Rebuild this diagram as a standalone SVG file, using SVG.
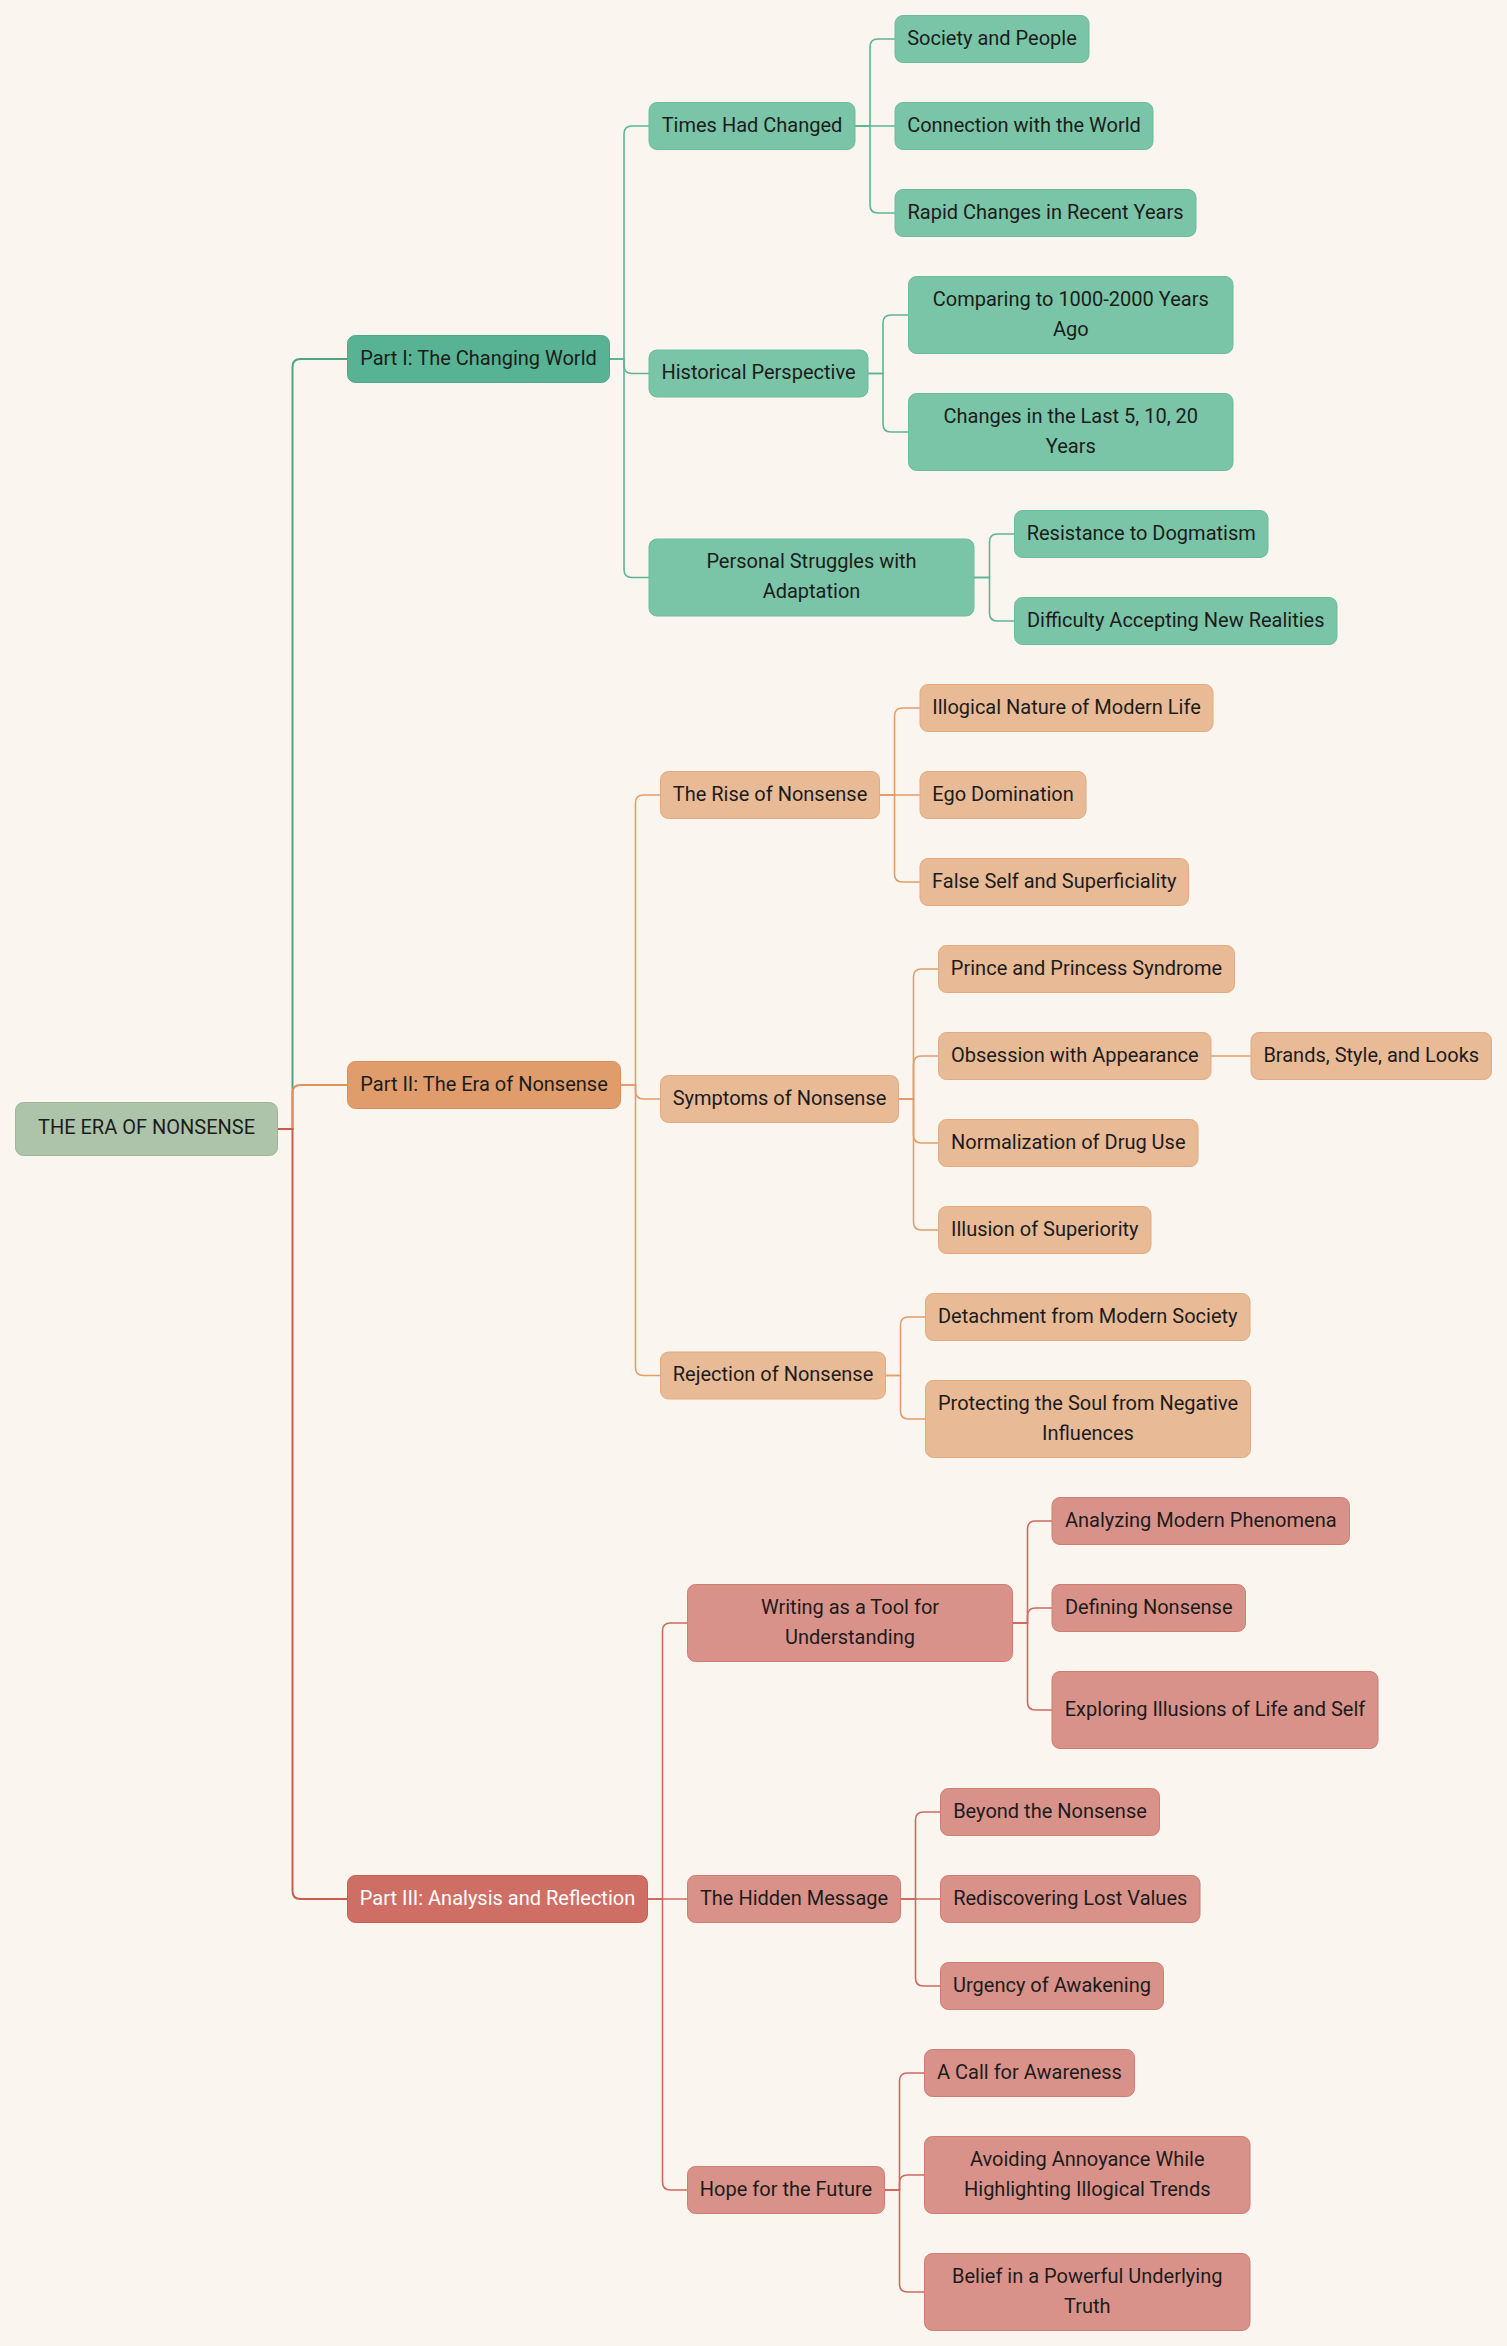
<svg xmlns="http://www.w3.org/2000/svg" width="1507" height="2346" viewBox="0 0 1507 2346">
<style>
text{font-family:Roboto,"Liberation Sans",sans-serif;font-size:20px;fill:#1c1c1c;text-anchor:middle}
rect{stroke-width:1}
.root rect{fill:#aec4aa;stroke:#9cb697}
.g1 rect{fill:#57b393;stroke:#4ea787}
.g2 rect{fill:#7ac4a7;stroke:#6cbc9d}
.o1 rect{fill:#e09d6b;stroke:#d98e59}
.o2 rect{fill:#e8ba96;stroke:#e2aa80}
.r1 rect{fill:#cf6e64;stroke:#c65d53}
.r1 text{fill:#ffffff}
.r2 rect{fill:#d9928a;stroke:#cf7c73}
#edges path{fill:none}
.eg0{stroke:#4fa384;stroke-width:2}
.eo0{stroke:#e0945c;stroke-width:2}
.er0{stroke:#cb5a4f;stroke-width:2}
.eg{stroke:#5db595;stroke-width:1.6}
.eo{stroke:#e39d68;stroke-width:1.6}
.er{stroke:#cf6a60;stroke-width:1.6}
</style>
<rect x="0" y="0" width="1507" height="2346" fill="#faf6ef" stroke="none"/>
<g id="edges">
<path class="eg0" d="M277.5,1129 H292.5 V367 Q292.5,359 300.5,359 H347.5"/>
<path class="eo0" d="M277.5,1129 H292.5 V1093 Q292.5,1085 300.5,1085 H347.5"/>
<path class="er0" d="M277.5,1129 H292.5 V1891 Q292.5,1899 300.5,1899 H347.5"/>
<path class="eg" d="M609.5,359 H624 V134 Q624,126 632,126 H649"/>
<path class="eg" d="M609.5,359 H624 V365.5 Q624,373.5 632,373.5 H649"/>
<path class="eg" d="M609.5,359 H624 V569.5 Q624,577.5 632,577.5 H649"/>
<path class="eg" d="M855,126 H870 V47 Q870,39 878,39 H895"/>
<path class="eg" d="M855,126 H895"/>
<path class="eg" d="M855,126 H870 V205 Q870,213 878,213 H895"/>
<path class="eg" d="M868,373.5 H883 V323 Q883,315 891,315 H908.5"/>
<path class="eg" d="M868,373.5 H883 V424 Q883,432 891,432 H908.5"/>
<path class="eg" d="M974,577.5 H989.5 V542 Q989.5,534 997.5,534 H1014.5"/>
<path class="eg" d="M974,577.5 H989.5 V613 Q989.5,621 997.5,621 H1014.5"/>
<path class="eo" d="M620.5,1085 H635.5 V803 Q635.5,795 643.5,795 H660.5"/>
<path class="eo" d="M620.5,1085 H635.5 V1091 Q635.5,1099 643.5,1099 H660.5"/>
<path class="eo" d="M620.5,1085 H635.5 V1367.5 Q635.5,1375.5 643.5,1375.5 H660.5"/>
<path class="eo" d="M879.5,795 H894.5 V716 Q894.5,708 902.5,708 H920"/>
<path class="eo" d="M879.5,795 H920"/>
<path class="eo" d="M879.5,795 H894.5 V874 Q894.5,882 902.5,882 H920"/>
<path class="eo" d="M898.5,1099 H913.5 V977 Q913.5,969 921.5,969 H938.5"/>
<path class="eo" d="M898.5,1099 H913.5 V1064 Q913.5,1056 921.5,1056 H938.5"/>
<path class="eo" d="M898.5,1099 H913.5 V1135 Q913.5,1143 921.5,1143 H938.5"/>
<path class="eo" d="M898.5,1099 H913.5 V1222 Q913.5,1230 921.5,1230 H938.5"/>
<path class="eo" d="M1211,1056 H1251"/>
<path class="eo" d="M885.5,1375.5 H900.5 V1325 Q900.5,1317 908.5,1317 H925.5"/>
<path class="eo" d="M885.5,1375.5 H900.5 V1411 Q900.5,1419 908.5,1419 H925.5"/>
<path class="er" d="M647.5,1899 H662.5 V1631 Q662.5,1623 670.5,1623 H687.5"/>
<path class="er" d="M647.5,1899 H687.5"/>
<path class="er" d="M647.5,1899 H662.5 V2182 Q662.5,2190 670.5,2190 H687.5"/>
<path class="er" d="M1012.5,1623 H1027.5 V1529 Q1027.5,1521 1035.5,1521 H1052"/>
<path class="er" d="M1012.5,1623 H1027.5 V1616 Q1027.5,1608 1035.5,1608 H1052"/>
<path class="er" d="M1012.5,1623 H1027.5 V1702 Q1027.5,1710 1035.5,1710 H1052"/>
<path class="er" d="M900.5,1899 H915.5 V1820 Q915.5,1812 923.5,1812 H940.5"/>
<path class="er" d="M900.5,1899 H940.5"/>
<path class="er" d="M900.5,1899 H915.5 V1978 Q915.5,1986 923.5,1986 H940.5"/>
<path class="er" d="M884.5,2190 H899.5 V2081 Q899.5,2073 907.5,2073 H924.5"/>
<path class="er" d="M884.5,2190 H899.5 V2183 Q899.5,2175 907.5,2175 H924.5"/>
<path class="er" d="M884.5,2190 H899.5 V2284 Q899.5,2292 907.5,2292 H924.5"/>
</g>
<g id="root" class="root"><rect x="15.5" y="1102.5" width="262" height="53" rx="8"/><text x="146.5" y="1134">THE ERA OF NONSENSE</text></g>
<g id="part1" class="g1"><rect x="347.5" y="335.5" width="262" height="47" rx="8"/><text x="478.5" y="364.5">Part I: The Changing World</text></g>
<g id="part2" class="o1"><rect x="347.5" y="1061.5" width="273" height="47" rx="8"/><text x="484" y="1090.5">Part II: The Era of Nonsense</text></g>
<g id="part3" class="r1"><rect x="347.5" y="1875.5" width="300" height="47" rx="8"/><text x="497.5" y="1904.5">Part III: Analysis and Reflection</text></g>
<g id="times" class="g2"><rect x="649" y="102.5" width="206" height="47" rx="8"/><text x="752" y="131.5">Times Had Changed</text></g>
<g id="historical" class="g2"><rect x="649" y="350" width="219" height="47" rx="8"/><text x="758.5" y="379">Historical Perspective</text></g>
<g id="personal" class="g2"><rect x="649" y="539" width="325" height="77" rx="8"/><text x="811.5" y="568">Personal Struggles with</text><text x="811.5" y="598">Adaptation</text></g>
<g id="society" class="g2"><rect x="895" y="15.5" width="194" height="47" rx="8"/><text x="992" y="44.5">Society and People</text></g>
<g id="connection" class="g2"><rect x="895" y="102.5" width="258" height="47" rx="8"/><text x="1024" y="131.5">Connection with the World</text></g>
<g id="rapid" class="g2"><rect x="895" y="189.5" width="301" height="47" rx="8"/><text x="1045.5" y="218.5">Rapid Changes in Recent Years</text></g>
<g id="comparing" class="g2"><rect x="908.5" y="276.5" width="324.5" height="77" rx="8"/><text x="1070.75" y="305.5">Comparing to 1000-2000 Years</text><text x="1070.75" y="335.5">Ago</text></g>
<g id="changes" class="g2"><rect x="908.5" y="393.5" width="324.5" height="77" rx="8"/><text x="1070.75" y="422.5">Changes in the Last 5, 10, 20</text><text x="1070.75" y="452.5">Years</text></g>
<g id="resistance" class="g2"><rect x="1014.5" y="510.5" width="253.5" height="47" rx="8"/><text x="1141.25" y="539.5">Resistance to Dogmatism</text></g>
<g id="difficulty" class="g2"><rect x="1014.5" y="597.5" width="322.5" height="47" rx="8"/><text x="1175.75" y="626.5">Difficulty Accepting New Realities</text></g>
<g id="rise" class="o2"><rect x="660.5" y="771.5" width="219" height="47" rx="8"/><text x="770" y="800.5">The Rise of Nonsense</text></g>
<g id="symptoms" class="o2"><rect x="660.5" y="1075.5" width="238" height="47" rx="8"/><text x="779.5" y="1104.5">Symptoms of Nonsense</text></g>
<g id="rejection" class="o2"><rect x="660.5" y="1352" width="225" height="47" rx="8"/><text x="773" y="1381">Rejection of Nonsense</text></g>
<g id="illogical" class="o2"><rect x="920" y="684.5" width="293" height="47" rx="8"/><text x="1066.5" y="713.5">Illogical Nature of Modern Life</text></g>
<g id="ego" class="o2"><rect x="920" y="771.5" width="166" height="47" rx="8"/><text x="1003" y="800.5">Ego Domination</text></g>
<g id="falseself" class="o2"><rect x="920" y="858.5" width="268.5" height="47" rx="8"/><text x="1054.25" y="887.5">False Self and Superficiality</text></g>
<g id="prince" class="o2"><rect x="938.5" y="945.5" width="296" height="47" rx="8"/><text x="1086.5" y="974.5">Prince and Princess Syndrome</text></g>
<g id="obsession" class="o2"><rect x="938.5" y="1032.5" width="272.5" height="47" rx="8"/><text x="1074.75" y="1061.5">Obsession with Appearance</text></g>
<g id="brands" class="o2"><rect x="1251" y="1032.5" width="240.5" height="47" rx="8"/><text x="1371.25" y="1061.5">Brands, Style, and Looks</text></g>
<g id="drug" class="o2"><rect x="938.5" y="1119.5" width="259.5" height="47" rx="8"/><text x="1068.25" y="1148.5">Normalization of Drug Use</text></g>
<g id="illusion" class="o2"><rect x="938.5" y="1206.5" width="212.5" height="47" rx="8"/><text x="1044.75" y="1235.5">Illusion of Superiority</text></g>
<g id="detachment" class="o2"><rect x="925.5" y="1293.5" width="324.5" height="47" rx="8"/><text x="1087.75" y="1322.5">Detachment from Modern Society</text></g>
<g id="protecting" class="o2"><rect x="925.5" y="1380.5" width="325" height="77" rx="8"/><text x="1088" y="1409.5">Protecting the Soul from Negative</text><text x="1088" y="1439.5">Influences</text></g>
<g id="writing" class="r2"><rect x="687.5" y="1584.5" width="325" height="77" rx="8"/><text x="850" y="1613.5">Writing as a Tool for</text><text x="850" y="1643.5">Understanding</text></g>
<g id="hidden" class="r2"><rect x="687.5" y="1875.5" width="213" height="47" rx="8"/><text x="794" y="1904.5">The Hidden Message</text></g>
<g id="hope" class="r2"><rect x="687.5" y="2166.5" width="197" height="47" rx="8"/><text x="786" y="2195.5">Hope for the Future</text></g>
<g id="analyzing" class="r2"><rect x="1052" y="1497.5" width="297.5" height="47" rx="8"/><text x="1200.75" y="1526.5">Analyzing Modern Phenomena</text></g>
<g id="defining" class="r2"><rect x="1052" y="1584.5" width="193.5" height="47" rx="8"/><text x="1148.75" y="1613.5">Defining Nonsense</text></g>
<g id="exploring" class="r2"><rect x="1052" y="1671.5" width="326" height="77" rx="8"/><text x="1215" y="1715.5">Exploring Illusions of Life and Self</text></g>
<g id="beyond" class="r2"><rect x="940.5" y="1788.5" width="219" height="47" rx="8"/><text x="1050" y="1817.5">Beyond the Nonsense</text></g>
<g id="rediscovering" class="r2"><rect x="940.5" y="1875.5" width="259.5" height="47" rx="8"/><text x="1070.25" y="1904.5">Rediscovering Lost Values</text></g>
<g id="urgency" class="r2"><rect x="940.5" y="1962.5" width="223" height="47" rx="8"/><text x="1052" y="1991.5">Urgency of Awakening</text></g>
<g id="call" class="r2"><rect x="924.5" y="2049.5" width="210" height="47" rx="8"/><text x="1029.5" y="2078.5">A Call for Awareness</text></g>
<g id="avoiding" class="r2"><rect x="924.5" y="2136.5" width="325.5" height="77" rx="8"/><text x="1087.25" y="2165.5">Avoiding Annoyance While</text><text x="1087.25" y="2195.5">Highlighting Illogical Trends</text></g>
<g id="belief" class="r2"><rect x="924.5" y="2253.5" width="325.5" height="77" rx="8"/><text x="1087.25" y="2282.5">Belief in a Powerful Underlying</text><text x="1087.25" y="2312.5">Truth</text></g>
</svg>
